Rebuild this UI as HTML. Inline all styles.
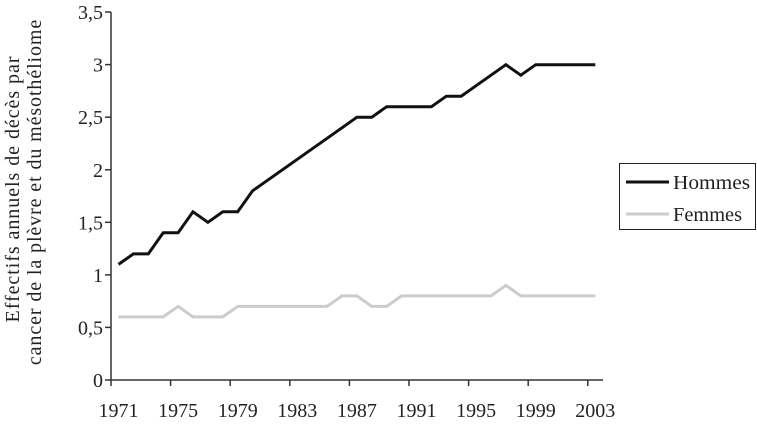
<!DOCTYPE html>
<html><head><meta charset="utf-8"><style>
html,body{margin:0;padding:0;background:#fff;}
body{position:relative;width:757px;height:424px;overflow:hidden;}
svg{display:block;font-family:"Liberation Serif",serif;}
.yl{position:absolute;white-space:nowrap;font-family:"Liberation Serif",serif;font-size:20px;line-height:20px;color:#222;transform:translate(-50%,-50%) rotate(-90deg);}
</style></head><body>
<svg width="757" height="424" viewBox="0 0 757 424" xmlns="http://www.w3.org/2000/svg">
<g stroke="#333" stroke-width="1.5" fill="none">
<line x1="111" y1="12" x2="111" y2="380"/>
<line x1="111" y1="380" x2="603" y2="380"/>
<line x1="105" y1="12" x2="111" y2="12"/>
<line x1="105" y1="64.6" x2="111" y2="64.6"/>
<line x1="105" y1="117.2" x2="111" y2="117.2"/>
<line x1="105" y1="169.8" x2="111" y2="169.8"/>
<line x1="105" y1="222.3" x2="111" y2="222.3"/>
<line x1="105" y1="274.9" x2="111" y2="274.9"/>
<line x1="105" y1="327.4" x2="111" y2="327.4"/>
<line x1="105" y1="380" x2="111" y2="380"/>
<line x1="111" y1="380" x2="111" y2="386"/>
<line x1="170.6" y1="380" x2="170.6" y2="386"/>
<line x1="230.2" y1="380" x2="230.2" y2="386"/>
<line x1="289.8" y1="380" x2="289.8" y2="386"/>
<line x1="349.4" y1="380" x2="349.4" y2="386"/>
<line x1="409" y1="380" x2="409" y2="386"/>
<line x1="468.6" y1="380" x2="468.6" y2="386"/>
<line x1="528.2" y1="380" x2="528.2" y2="386"/>
<line x1="587.8" y1="380" x2="587.8" y2="386"/>
</g>
<g font-size="20" fill="#222" text-anchor="end">
<text x="103" y="19">3,5</text>
<text x="103" y="71.6">3</text>
<text x="103" y="124.2">2,5</text>
<text x="103" y="176.8">2</text>
<text x="103" y="229.3">1,5</text>
<text x="103" y="281.9">1</text>
<text x="103" y="334.4">0,5</text>
<text x="103" y="387">0</text>
</g>
<g font-size="20" fill="#222" text-anchor="middle">
<text x="118.5" y="417">1971</text>
<text x="178.1" y="417">1975</text>
<text x="237.7" y="417">1979</text>
<text x="297.3" y="417">1983</text>
<text x="356.9" y="417">1987</text>
<text x="416.5" y="417">1991</text>
<text x="476.1" y="417">1995</text>
<text x="535.7" y="417">1999</text>
<text x="595.3" y="417">2003</text>
</g>
<polyline fill="none" stroke="#ccc" stroke-width="3" points="118.5,316.9 133.4,316.9 148.3,316.9 163.2,316.9 178.1,306.4 193,316.9 207.9,316.9 222.8,316.9 237.7,306.4 252.6,306.4 267.5,306.4 282.4,306.4 297.3,306.4 312.2,306.4 327.1,306.4 342,295.9 356.9,295.9 371.8,306.4 386.7,306.4 401.6,295.9 416.5,295.9 431.4,295.9 446.3,295.9 461.2,295.9 476.1,295.9 491,295.9 505.9,285.4 520.8,295.9 535.7,295.9 550.6,295.9 565.5,295.9 580.4,295.9 595.3,295.9"/>
<polyline fill="none" stroke="#111" stroke-width="3" points="118.5,264.4 133.4,253.9 148.3,253.9 163.2,232.8 178.1,232.8 193,211.8 207.9,222.3 222.8,211.8 237.7,211.8 252.6,190.8 267.5,180.3 282.4,169.8 297.3,159.3 312.2,148.8 327.1,138.3 342,127.8 356.9,117.2 371.8,117.2 386.7,106.7 401.6,106.7 416.5,106.7 431.4,106.7 446.3,96.2 461.2,96.2 476.1,85.7 491,75.2 505.9,64.7 520.8,75.2 535.7,64.7 550.6,64.7 565.5,64.7 580.4,64.7 595.3,64.7"/>
<rect x="619.5" y="163.5" width="136" height="66" fill="none" stroke="#222" stroke-width="1"/>
<line x1="626" y1="182" x2="669" y2="182" stroke="#111" stroke-width="3"/>
<line x1="626" y1="214" x2="669" y2="214" stroke="#ccc" stroke-width="3"/>
<g font-size="20" fill="#222">
<text x="673" y="189" textLength="77" lengthAdjust="spacingAndGlyphs">Hommes</text>
<text x="673" y="221" textLength="69" lengthAdjust="spacingAndGlyphs">Femmes</text>
</g>
</svg>
<div class="yl" style="left:13px;top:189px;letter-spacing:0.95px;">Effectifs annuels de décès par</div>
<div class="yl" style="left:35px;top:192px;letter-spacing:0.9px;">cancer de la plèvre et du mésothéliome</div>
</body></html>
